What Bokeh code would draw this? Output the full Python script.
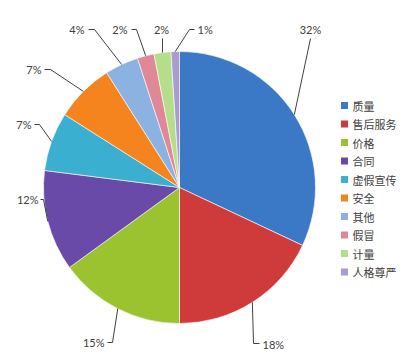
import numpy as np
from bokeh.plotting import figure
from bokeh.models import Range1d
from bokeh.core.properties import value
from bokeh.embed import file_html
from bokeh.resources import INLINE

# ---- data ----
categories = ["质量", "售后服务", "价格", "合同", "虚假宣传", "安全", "其他", "假冒", "计量", "人格尊严"]
shares = [32, 18, 15, 12, 7, 7, 4, 2, 2, 1]
pct_labels = [f"{v}%" for v in shares]
colors = ["#3b79c7", "#cf3b3b", "#9ac32f", "#6a4aa8", "#3aafd0",
          "#f5841f", "#8cb2e2", "#e08895", "#b5de8a", "#a99cd2"]

W, H = 410, 361
p = figure(width=W, height=H, x_range=Range1d(0, W), y_range=Range1d(0, H),
           output_backend="svg", toolbar_location=None, min_border=0)
p.axis.visible = False
p.grid.visible = False
p.outline_line_color = None
p.background_fill_color = "white"

cx, cy, R = 179, H - 187, 136
vals = np.array(shares, dtype=float)
cum = np.concatenate([[0], np.cumsum(vals)]) / vals.sum()
start = np.pi / 2 - 2 * np.pi * cum[:-1]
end = np.pi / 2 - 2 * np.pi * cum[1:]
mid = (start + end) / 2

p.wedge(x=cx, y=cy, radius=R, start_angle=start, end_angle=end, direction="clock",
        fill_color=colors, line_color="white", line_width=0.6)

ex = cx + R * np.cos(mid)
ey = cy + R * np.sin(mid)

# label layout (pixel coords from top): text pos, align, extra leader points
layout = [
    ((310, 29), "center", [(310, 38)]),
    ((262, 344), "left", [(253, 343), (259, 343)]),
    ((104, 342), "right", [(112, 342), (107, 342)]),
    ((38, 199), "right", [(43, 199), (40, 199)]),
    ((31, 124), "right", [(39, 124), (34, 124)]),
    ((41, 69), "right", [(50, 69), (44, 69)]),
    ((84, 29), "right", [(94, 29), (88, 29)]),
    ((127, 29), "right", [(136, 29), (131, 29)]),
    ((161, 29), "center", [(162, 38)]),
    ((197, 29), "left", [(189, 29), (194, 29)]),
]

xs, ys = [], []
for i, (tpos, align, pts) in enumerate(layout):
    lx = [ex[i]] + [q[0] for q in pts]
    ly = [ey[i]] + [H - q[1] for q in pts]
    xs.append(lx)
    ys.append(ly)
    p.text(x=[tpos[0]], y=[H - tpos[1]], text=[pct_labels[i]], text_align=align,
           text_baseline="middle", text_font=value("Lato"), text_font_size="11px",
           text_color="#404040")
p.multi_line(xs=xs, ys=ys, line_color="#404040", line_width=1)

# legend
ly0, step = 105, 18.5
leg_y = [H - (ly0 + step * i) for i in range(len(categories))]
p.scatter(x=[344] * len(categories), y=leg_y, marker="square", size=7,
          fill_color=colors, line_color=None)
p.text(x=[352] * len(categories), y=leg_y, text=categories, text_align="left",
       text_baseline="middle", text_font=value("Noto Sans CJK SC"),
       text_font_size="11px", text_color="#404040")

open("out.html", "w").write(file_html(p, INLINE))
